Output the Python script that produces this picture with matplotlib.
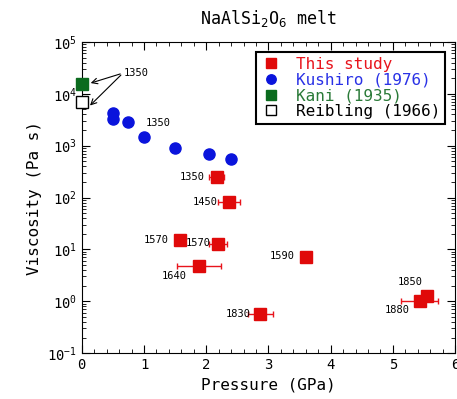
import matplotlib.pyplot as plt
import numpy as np

plt.rcParams['font.family'] = ['DejaVu Sans Mono', 'DejaVu Sans']
plt.rcParams['mathtext.fontset'] = 'dejavusans'

# This study (red)
p_this = [2.17, 2.37, 1.57, 2.19, 1.88, 3.60, 2.87, 5.55, 5.43]
v_this = [250, 82, 15, 12.5, 4.8, 7.0, 0.58, 1.25, 1.0]
xerr_this = [0.12, 0.18, 0.0, 0.15, 0.35, 0.0, 0.2, 0.0, 0.3]
t_this = ['1350', '1450', '1570', '1570', '1640', '1590', '1830', '1850', '1880']

# Kushiro (1976)
p_kush = [0.5, 0.5, 0.75, 1.0, 1.5, 2.05, 2.4]
v_kush = [4200, 3200, 2800, 1450, 900, 690, 550]

# Kani (1935), Reibling (1966)
p_kani = [0.0]
v_kani = [15500]
p_reib = [0.0]
v_reib = [6800]

fig = plt.figure(figsize=(4.57, 3.99), dpi=100)
ax = fig.add_axes([0.179, 0.115, 0.817, 0.78])

ax.errorbar(p_this, v_this, xerr=xerr_this, fmt='none', ecolor='#e8141c',
            elinewidth=1, capsize=2, zorder=2)
ax.plot(p_this, v_this, 's', color='#e00a0a', markersize=8.5, label='This study', zorder=3)
ax.plot(p_kush, v_kush, 'o', color='#0a14dc', markersize=8, label='Kushiro (1976)', zorder=3)
ax.plot(p_kani, v_kani, 's', color='#0b6b1e', markersize=8.5, label='Kani (1935)',
        clip_on=False, zorder=4)
ax.plot(p_reib, v_reib, 's', color='white', markeredgecolor='black', markersize=8.5,
        markeredgewidth=1, label='Reibling (1966)', clip_on=False, zorder=4)

# labels for this study (offsets in points)
offs = [(-27, 0), (-26, 0), (-26, 0), (-23, 1), (-27, -7), (-26, 1), (-25, 0), (-21, 10), (-25, -6)]
for x, y, t, (dx, dy) in zip(p_this, v_this, t_this, offs):
    ax.annotate(t, (x, y), xytext=(dx, dy), textcoords='offset points',
                fontsize=7.5, ha='left', va='center', color='black')

ax.text(1.03, 2750, '1350', fontsize=7.5, va='center')
for y in v_kani + v_reib:
    ax.annotate('', xy=(0.1, y * (1.0 if y > 10000 else 0.8)), xytext=(0.66, 25000),
                arrowprops=dict(arrowstyle='->', color='black', lw=0.8))
ax.text(0.67, 25000, '1350', fontsize=7.5, va='center')

ax.set_yscale('log')
ax.set_xlim(0, 6)
ax.set_ylim(0.1, 1e5)
ax.set_xticks(np.arange(0, 7, 1))
ax.set_xticks(np.arange(0, 6.01, 0.2), minor=True)
ax.tick_params(which='both', direction='in', top=True, right=True, labelsize=10)
ax.tick_params(which='major', length=6)
ax.tick_params(which='minor', length=3)
ax.set_xlabel('Pressure (GPa)', fontsize=11.5)
ax.set_ylabel('Viscosity (Pa s)', fontsize=11.5)
ax.set_title('NaAlSi$_2$O$_6$ melt', fontsize=12, pad=13)

leg = ax.legend(loc='upper right', bbox_to_anchor=(0.973, 0.968), borderaxespad=0,
                fontsize=11.5, handletextpad=0.9, handlelength=1.3, borderpad=0.3,
                labelspacing=0.05, fancybox=False, edgecolor='black', framealpha=1,
                shadow=False, markerscale=0.85)
leg.get_frame().set_linewidth(1.5)
for txt, c in zip(leg.get_texts(), ['#e8141c', '#2a32e6', '#2a7a38', 'black']):
    txt.set_color(c)

fig.savefig('out.png', dpi=100)
